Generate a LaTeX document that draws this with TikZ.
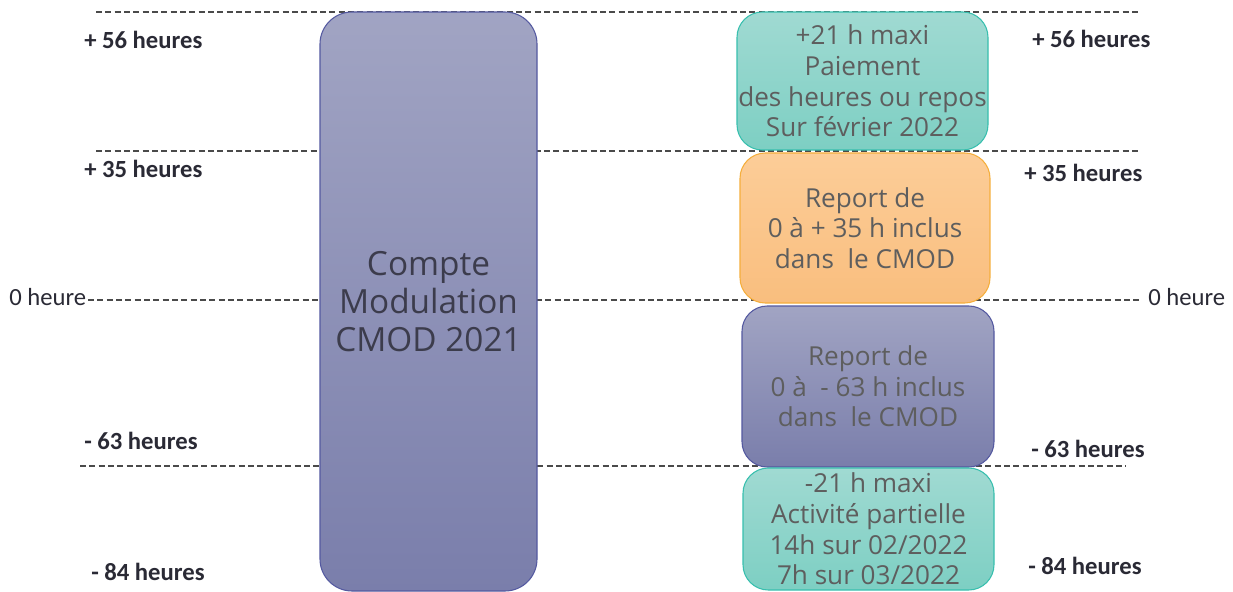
\documentclass[tikz,border=0pt]{standalone}
\usepackage{fontspec}
\setmainfont{Open Sans}
\newfontfamily\labfont{Carlito}
\newlength\pu
\setlength\pu{0.75pt}
\definecolor{pTop}{HTML}{A1A4C3}
\definecolor{pBot}{HTML}{7A7EAB}
\definecolor{pLine}{HTML}{5459A0}
\definecolor{tTop}{HTML}{A0DAD2}
\definecolor{tBot}{HTML}{7DCFC3}
\definecolor{tLine}{HTML}{38BFAE}
\definecolor{oTop}{HTML}{FCCD98}
\definecolor{oBot}{HTML}{F9BE7E}
\definecolor{oLine}{HTML}{F5AE3C}
\definecolor{boxText}{HTML}{5E5E5E}
\definecolor{bigText}{HTML}{3C3C4C}
\definecolor{labText}{HTML}{2A2A35}
\definecolor{dashCol}{HTML}{4A4A4A}
\begin{document}
\begin{tikzpicture}[x=0.75pt,y=-0.75pt,
  guide/.style={draw=dashCol, line width=0.8pt, dash pattern=on 4.5pt off 2.5pt},
  bigbox/.style={draw=pLine, line width=0.8pt, top color=pTop, bottom color=pBot,
    rounded corners=24pt, inner sep=0pt, align=center, text=bigText,
    font=\fontsize{25}{28.5}\selectfont},
  rbox/.style={line width=0.8pt, rounded corners=19pt, inner sep=0pt, align=center,
    text=boxText, font=\fontsize{19.6}{23}\selectfont},
  tealbox/.style={rbox, draw=tLine, top color=tTop, bottom color=tBot},
  orangebox/.style={rbox, draw=oLine, top color=oTop, bottom color=oBot},
  purplebox/.style={rbox, draw=pLine, top color=pTop, bottom color=pBot},
  boldlab/.style={anchor=west, inner sep=0pt, text=labText, font=\labfont\bfseries\fontsize{18.5}{20}\selectfont},
  reglab/.style={anchor=west, inner sep=0pt, text=labText, font=\labfont\fontsize{18.5}{20}\selectfont}
]
\useasboundingbox (0,0) rectangle (1233,592);
\fill[white] (0,0) rectangle (1233,592);

% guide lines
\coordinate (g1a) at (96,12);  \coordinate (g1b) at (1140,12);
\coordinate (g2a) at (96,151); \coordinate (g2b) at (1140,151);
\coordinate (g3a) at (88,300); \coordinate (g3b) at (1142,300);
\coordinate (g4a) at (80,466); \coordinate (g4b) at (1126,466);
\draw[guide] (g1a) -- (g1b);
\draw[guide] (g2a) -- (g2b);
\draw[guide] (g3a) -- (g3b);
\draw[guide] (g4a) -- (g4b);

% big box
\node[bigbox, minimum width=217\pu, minimum height=579\pu] (cmod) at (428.5,301.5)
  {Compte\\Modulation\\CMOD 2021};

% right boxes
\node[tealbox, minimum width=251\pu, minimum height=138\pu] (pay) at (862.5,81)
  {+21 h maxi\\Paiement\\des heures ou repos\\Sur février 2022};
\node[orangebox, minimum width=250\pu, minimum height=150\pu] (repp) at (865,228)
  {Report de\\0 à + 35 h inclus\\dans\ \ le CMOD};
\node[purplebox, minimum width=252\pu, minimum height=161\pu] (repm) at (868,386.5)
  {Report de\\0 à\ \ - 63 h inclus\\dans\ \ le CMOD};
\node[tealbox, minimum width=251\pu, minimum height=122\pu] (act) at (868.5,529)
  {-21 h maxi\\Activité partielle\\14h sur 02/2022\\7h sur 03/2022};

% left labels
\node[boldlab] (l56) at (84,40) {+ 56 heures};
\node[boldlab] (l35) at (84,169) {+ 35 heures};
\node[reglab]  (l0)  at (9,297) {0 heure};
\node[boldlab] (l63) at (84,441) {- 63 heures};
\node[boldlab] (l84) at (91,572) {- 84 heures};

% right labels
\node[boldlab] (r56) at (1032,39) {+ 56 heures};
\node[boldlab] (r35) at (1024,173) {+ 35 heures};
\node[reglab]  (r0)  at (1148,297) {0 heure};
\node[boldlab] (r63) at (1031,449) {- 63 heures};
\node[boldlab] (r84) at (1028,566) {- 84 heures};
\end{tikzpicture}
\end{document}
